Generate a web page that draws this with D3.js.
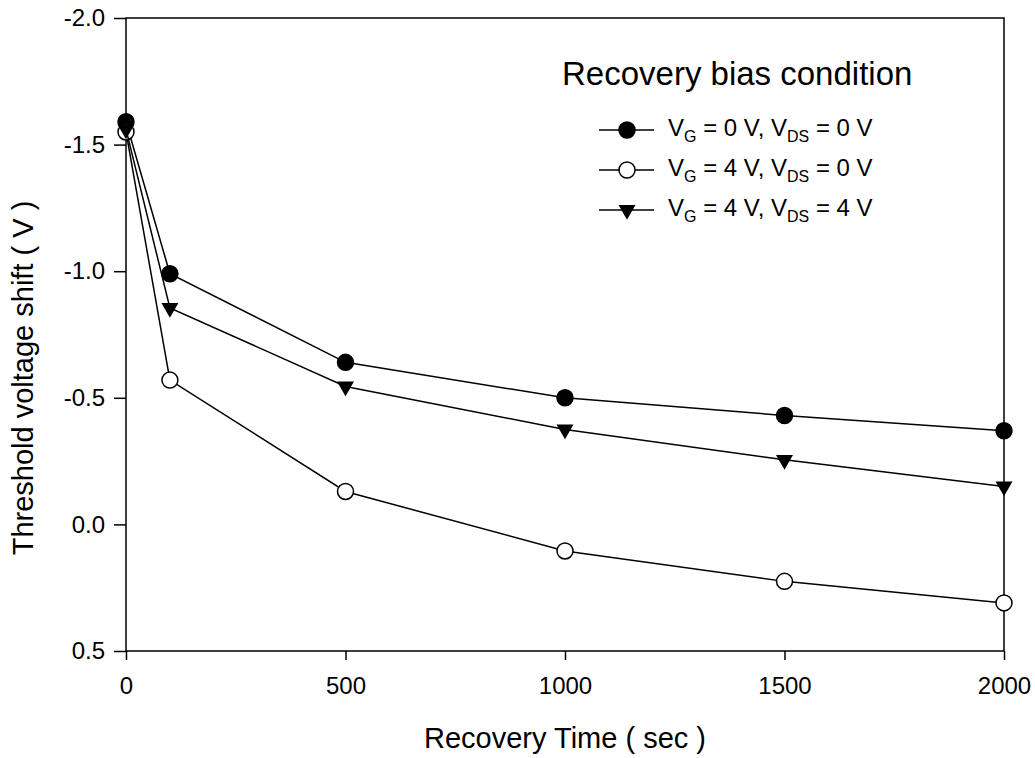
<!DOCTYPE html>
<html lang="en">
<head>
<meta charset="utf-8">
<title>Threshold voltage recovery</title>
<script src="https://d3js.org/d3.v7.min.js"></script>
<style>
body { margin: 0; background: #fff; }
text { font-family: Arial, "Liberation Sans", sans-serif; fill: #000; }
.line { fill: none; stroke: #000; stroke-width: 1.5; }
</style>
</head>
<body>
<div id="chart"></div>
<script>
var w = 1035, h = 758;
var margin = {left: 126, right: 31, top: 18, bottom: 107};

// data
var times = [0, 100, 500, 1000, 1500, 2000];
var vg0vds0 = [-1.59, -0.99, -0.64, -0.50, -0.43, -0.37];
var vg4vds0 = [-1.55, -0.57, -0.13, 0.105, 0.225, 0.31];
var vg4vds4 = [-1.56, -0.855, -0.545, -0.375, -0.255, -0.15];
var xTicks = [0, 500, 1000, 1500, 2000];
var yTicks = [-2.0, -1.5, -1.0, -0.5, 0.0, 0.5];

var series = [
  {vg: "0", vds: "0", values: vg0vds0, marker: "fill"},
  {vg: "4", vds: "0", values: vg4vds0, marker: "open"},
  {vg: "4", vds: "4", values: vg4vds4, marker: "tri"}
];

var svg = d3.select("#chart").append("svg").attr("width", w).attr("height", h);

var x = d3.scaleLinear().domain([0, 2000]).range([margin.left, w - margin.right]);
var y = d3.scaleLinear().domain([-2.0, 0.5]).range([margin.top, h - margin.bottom]);

// frame
svg.append("rect")
  .attr("x", x(0)).attr("y", y(-2.0))
  .attr("width", x(2000) - x(0)).attr("height", y(0.5) - y(-2.0))
  .attr("fill", "none").attr("stroke", "#000").attr("stroke-width", 1.5);

var xAxis = svg.append("g").attr("transform", "translate(0," + y(0.5) + ")")
  .call(d3.axisBottom(x).tickValues(xTicks).tickSize(9).tickPadding(17).tickFormat(d3.format("d")));
var yAxis = svg.append("g").attr("transform", "translate(" + x(0) + ",0)")
  .call(d3.axisLeft(y).tickValues(yTicks).tickSize(12).tickPadding(9)
    .tickFormat(function(d) { return d.toFixed(1); }));
[xAxis, yAxis].forEach(function(g) {
  g.select(".domain").remove();
  g.selectAll(".tick line").attr("stroke", "#000").attr("stroke-width", 1.5);
  g.selectAll(".tick text").style("font-size", "24px").attr("fill", "#000");
});

svg.append("text").attr("x", (x(0) + x(2000)) / 2).attr("y", 748)
  .attr("text-anchor", "middle").style("font-size", "29px").text("Recovery Time ( sec )");
svg.append("text").attr("transform", "translate(33,378) rotate(-90)")
  .attr("text-anchor", "middle").style("font-size", "29px").text("Threshold voltage shift ( V )");

var tri = d3.symbol().type(d3.symbolTriangle).size(125);

function drawMarker(g, s, cx, cy) {
  if (s.marker === "tri") {
    g.append("path").attr("d", tri).attr("transform", "translate(" + cx + "," + cy + ") rotate(180)")
      .attr("fill", "#000");
  } else {
    g.append("circle").attr("cx", cx).attr("cy", cy).attr("r", 8)
      .attr("fill", s.marker === "fill" ? "#000" : "#fff")
      .attr("stroke", "#000").attr("stroke-width", 1.5);
  }
}

var line = d3.line().x(function(d, i) { return x(times[i]); }).y(function(d) { return y(d); });

series.forEach(function(s) {
  var g = svg.append("g");
  g.append("path").attr("class", "line").attr("d", line(s.values));
  s.values.forEach(function(v, i) { drawMarker(g, s, x(times[i]), y(v)); });
});

// legend
var leg = svg.append("g");
leg.append("text").attr("x", 562).attr("y", 85).style("font-size", "33px").text("Recovery bias condition");
series.forEach(function(s, i) {
  var cy = 130 + i * 40;
  leg.append("line").attr("x1", 599).attr("x2", 654).attr("y1", cy).attr("y2", cy)
    .attr("stroke", "#000").attr("stroke-width", 1.5);
  drawMarker(leg, s, 627, cy);
  var t = leg.append("text").attr("x", 668).attr("y", cy + 6).style("font-size", "24px");
  t.append("tspan").text("V");
  t.append("tspan").attr("dy", 6).style("font-size", "16px").text("G");
  t.append("tspan").attr("dy", -6).text(" = " + s.vg + " V, V");
  t.append("tspan").attr("dy", 6).style("font-size", "16px").text("DS");
  t.append("tspan").attr("dy", -6).text(" = " + s.vds + " V");
});
</script>
</body>
</html>
